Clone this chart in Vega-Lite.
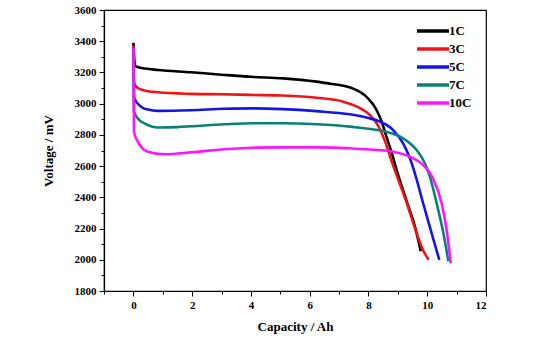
{
  "$schema": "https://vega.github.io/schema/vega-lite/v6.json",
  "width": 382,
  "height": 281,
  "autosize": "none",
  "padding": {"left": 104, "top": 10, "right": 57, "bottom": 55},
  "config": {
    "view": {"stroke": "#000", "strokeWidth": 1.2},
    "font": "Liberation Serif, Times New Roman, serif",
    "axis": {
      "grid": false,
      "domainColor": "#000",
      "domainWidth": 1.2,
      "tickColor": "#000",
      "tickWidth": 1,
      "labelColor": "#000",
      "titleColor": "#000",
      "labelFont": "Liberation Serif, Times New Roman, serif",
      "labelFontWeight": "bold",
      "labelFontSize": 11,
      "titleFont": "Liberation Serif, Times New Roman, serif",
      "titleFontWeight": "bold",
      "titleFontSize": 13
    }
  },
  "data": {
    "values": [
      {"s": "1C", "cap": 0, "v": 3390},
      {"s": "1C", "cap": 0.05, "v": 3250},
      {"s": "1C", "cap": 0.1, "v": 3237},
      {"s": "1C", "cap": 0.4, "v": 3225},
      {"s": "1C", "cap": 0.83, "v": 3216},
      {"s": "1C", "cap": 1.97, "v": 3201},
      {"s": "1C", "cap": 3.1, "v": 3184},
      {"s": "1C", "cap": 4.0, "v": 3172},
      {"s": "1C", "cap": 5.09, "v": 3162},
      {"s": "1C", "cap": 6.23, "v": 3141},
      {"s": "1C", "cap": 6.7, "v": 3128},
      {"s": "1C", "cap": 7.14, "v": 3115},
      {"s": "1C", "cap": 7.5, "v": 3095},
      {"s": "1C", "cap": 7.71, "v": 3075},
      {"s": "1C", "cap": 7.9, "v": 3050},
      {"s": "1C", "cap": 8.05, "v": 3020},
      {"s": "1C", "cap": 8.16, "v": 2995},
      {"s": "1C", "cap": 8.3, "v": 2950},
      {"s": "1C", "cap": 8.45, "v": 2885},
      {"s": "1C", "cap": 8.6, "v": 2795},
      {"s": "1C", "cap": 8.75, "v": 2710},
      {"s": "1C", "cap": 8.96, "v": 2575},
      {"s": "1C", "cap": 9.3, "v": 2375},
      {"s": "1C", "cap": 9.6, "v": 2200},
      {"s": "1C", "cap": 9.78, "v": 2055},
      {"s": "3C", "cap": 0, "v": 3370},
      {"s": "3C", "cap": 0.03, "v": 3130},
      {"s": "3C", "cap": 0.15, "v": 3100},
      {"s": "3C", "cap": 0.375, "v": 3085},
      {"s": "3C", "cap": 0.83, "v": 3073},
      {"s": "3C", "cap": 1.97, "v": 3063},
      {"s": "3C", "cap": 3.0, "v": 3060},
      {"s": "3C", "cap": 4.0, "v": 3056},
      {"s": "3C", "cap": 5.09, "v": 3052},
      {"s": "3C", "cap": 6.23, "v": 3038},
      {"s": "3C", "cap": 7.14, "v": 3013},
      {"s": "3C", "cap": 7.5, "v": 2990},
      {"s": "3C", "cap": 7.71, "v": 2972},
      {"s": "3C", "cap": 8.05, "v": 2927},
      {"s": "3C", "cap": 8.33, "v": 2860},
      {"s": "3C", "cap": 8.56, "v": 2760},
      {"s": "3C", "cap": 8.79, "v": 2630},
      {"s": "3C", "cap": 9.0, "v": 2520},
      {"s": "3C", "cap": 9.3, "v": 2365},
      {"s": "3C", "cap": 9.64, "v": 2170},
      {"s": "3C", "cap": 9.85, "v": 2065},
      {"s": "3C", "cap": 10.05, "v": 2000},
      {"s": "5C", "cap": 0, "v": 3360},
      {"s": "5C", "cap": 0.03, "v": 3034},
      {"s": "5C", "cap": 0.26, "v": 2981},
      {"s": "5C", "cap": 0.5, "v": 2962},
      {"s": "5C", "cap": 0.83, "v": 2954},
      {"s": "5C", "cap": 1.97, "v": 2958},
      {"s": "5C", "cap": 3.1, "v": 2967},
      {"s": "5C", "cap": 4.07, "v": 2970},
      {"s": "5C", "cap": 5.09, "v": 2965},
      {"s": "5C", "cap": 6.23, "v": 2952},
      {"s": "5C", "cap": 7.37, "v": 2932},
      {"s": "5C", "cap": 7.71, "v": 2921},
      {"s": "5C", "cap": 8.0, "v": 2908},
      {"s": "5C", "cap": 8.39, "v": 2885},
      {"s": "5C", "cap": 8.84, "v": 2831},
      {"s": "5C", "cap": 9.18, "v": 2746},
      {"s": "5C", "cap": 9.41, "v": 2650},
      {"s": "5C", "cap": 9.58, "v": 2554},
      {"s": "5C", "cap": 9.86, "v": 2362},
      {"s": "5C", "cap": 10.15, "v": 2170},
      {"s": "5C", "cap": 10.41, "v": 2000},
      {"s": "7C", "cap": 0, "v": 3350},
      {"s": "7C", "cap": 0.02, "v": 2949},
      {"s": "7C", "cap": 0.2, "v": 2895},
      {"s": "7C", "cap": 0.375, "v": 2874},
      {"s": "7C", "cap": 0.83, "v": 2847},
      {"s": "7C", "cap": 1.5, "v": 2850},
      {"s": "7C", "cap": 1.97, "v": 2855},
      {"s": "7C", "cap": 3.1, "v": 2868},
      {"s": "7C", "cap": 4.07, "v": 2875},
      {"s": "7C", "cap": 5.09, "v": 2875},
      {"s": "7C", "cap": 6.23, "v": 2868},
      {"s": "7C", "cap": 7.37, "v": 2853},
      {"s": "7C", "cap": 7.71, "v": 2846},
      {"s": "7C", "cap": 8.33, "v": 2831},
      {"s": "7C", "cap": 8.61, "v": 2820},
      {"s": "7C", "cap": 9.18, "v": 2778},
      {"s": "7C", "cap": 9.64, "v": 2703},
      {"s": "7C", "cap": 9.92, "v": 2618},
      {"s": "7C", "cap": 10.09, "v": 2532},
      {"s": "7C", "cap": 10.32, "v": 2362},
      {"s": "7C", "cap": 10.55, "v": 2170},
      {"s": "7C", "cap": 10.72, "v": 1990},
      {"s": "10C", "cap": 0, "v": 3360},
      {"s": "10C", "cap": 0.02, "v": 2820},
      {"s": "10C", "cap": 0.15, "v": 2757},
      {"s": "10C", "cap": 0.3, "v": 2715},
      {"s": "10C", "cap": 0.49, "v": 2692},
      {"s": "10C", "cap": 1.06, "v": 2676},
      {"s": "10C", "cap": 1.97, "v": 2688},
      {"s": "10C", "cap": 3.1, "v": 2708},
      {"s": "10C", "cap": 4.07, "v": 2718},
      {"s": "10C", "cap": 5.09, "v": 2720},
      {"s": "10C", "cap": 6.23, "v": 2720},
      {"s": "10C", "cap": 7.37, "v": 2714},
      {"s": "10C", "cap": 7.71, "v": 2710},
      {"s": "10C", "cap": 8.33, "v": 2703},
      {"s": "10C", "cap": 8.84, "v": 2692},
      {"s": "10C", "cap": 9.41, "v": 2660},
      {"s": "10C", "cap": 9.86, "v": 2607},
      {"s": "10C", "cap": 10.17, "v": 2532},
      {"s": "10C", "cap": 10.49, "v": 2362},
      {"s": "10C", "cap": 10.66, "v": 2191},
      {"s": "10C", "cap": 10.8, "v": 1977}
    ]
  },
  "layer": [
    {
      "mark": {"type": "line", "strokeWidth": 2.6, "interpolate": "monotone"},
      "encoding": {
        "x": {
          "field": "cap", "type": "quantitative",
          "scale": {"domain": [-1, 12], "nice": false, "zero": false},
          "axis": {"orient": "bottom", "values": [0, 2, 4, 6, 8, 10, 12], "format": "d", "title": "Capacity / Ah", "tickSize": 5, "labelPadding": 3, "titlePadding": 10}
        },
        "y": {
          "field": "v", "type": "quantitative",
          "scale": {"domain": [1800, 3600], "nice": false, "zero": false},
          "axis": {"orient": "left", "values": [1800, 2000, 2200, 2400, 2600, 2800, 3000, 3200, 3400, 3600], "format": "d", "title": "Voltage / mV", "tickSize": 5, "labelPadding": 3, "titlePadding": 19}
        },
        "color": {
          "field": "s", "type": "nominal",
          "scale": {"domain": ["1C", "3C", "5C", "7C", "10C"], "range": ["#000000", "#f01414", "#1414e6", "#0a8078", "#ff14ff"]},
          "legend": {
            "orient": "none", "legendX": 311, "legendY": 11, "title": null,
            "symbolType": "M-1,0H3", "symbolSize": 256, "symbolStrokeWidth": 3.5,
            "labelFont": "Liberation Serif, Times New Roman, serif", "labelFontWeight": "bold", "labelFontSize": 13,
            "labelColor": "#000", "labelOffset": 14, "rowPadding": 1
          }
        }
      }
    },
    {
      "mark": {"type": "line", "opacity": 0},
      "encoding": {
        "x": {
          "field": "cap", "type": "quantitative",
          "scale": {"domain": [-1, 12], "nice": false, "zero": false},
          "axis": {"orient": "bottom", "values": [-1, 1, 3, 5, 7, 9, 11], "labels": false, "domain": false, "title": null, "tickSize": 3}
        },
        "y": {
          "field": "v", "type": "quantitative",
          "scale": {"domain": [1800, 3600], "nice": false, "zero": false},
          "axis": {"orient": "left", "values": [1900, 2100, 2300, 2500, 2700, 2900, 3100, 3300, 3500], "labels": false, "domain": false, "title": null, "tickSize": 3}
        }
      }
    }
  ],
  "resolve": {"axis": {"x": "independent", "y": "independent"}}
}
